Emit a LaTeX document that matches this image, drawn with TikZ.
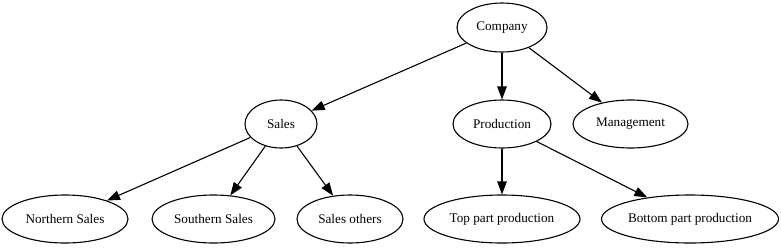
\documentclass[tikz,border=0pt]{standalone}
\usepackage{fontspec}
\setmainfont{Liberation Serif}
\usetikzlibrary{shapes.geometric,arrows.meta}
\begin{document}
\begin{tikzpicture}[x=1pt,y=-1pt,
  nd/.style={ellipse,draw,line width=1.1pt,inner sep=0pt,minimum height=48pt,font=\fontsize{13.2}{15}\selectfont},
  edge/.style={draw,line width=1.1pt,-{Triangle[length=13pt,width=9.5pt]}}]
\useasboundingbox (0,0) rectangle (781,247);
\node[nd,minimum width=90pt,minimum height=49pt] (company) at (502,27.5) {Company};
\node[nd,minimum width=72pt] (sales) at (281,124) {Sales};
\node[nd,minimum width=98pt] (prod) at (502,124) {Production};
\node[nd,minimum width=115pt] (mgmt) at (630.5,124) {Management};
\node[nd,minimum width=126pt] (north) at (65,219) {Northern Sales};
\node[nd,minimum width=123pt] (south) at (213.5,219) {Southern Sales};
\node[nd,minimum width=106pt] (others) at (350,219) {Sales others};
\node[nd,minimum width=156pt] (top) at (502,219) {Top part production};
\node[nd,minimum width=177pt] (bottom) at (690,219) {Bottom part production};
\draw[edge] (company) -- (sales);
\draw[edge] (company) -- (prod);
\draw[edge] (company) -- (mgmt);
\draw[edge] (sales) -- (north);
\draw[edge] (sales) -- (south);
\draw[edge] (sales) -- (others);
\draw[edge] (prod) -- (top);
\draw[edge] (prod) -- (bottom);
\end{tikzpicture}
\end{document}
